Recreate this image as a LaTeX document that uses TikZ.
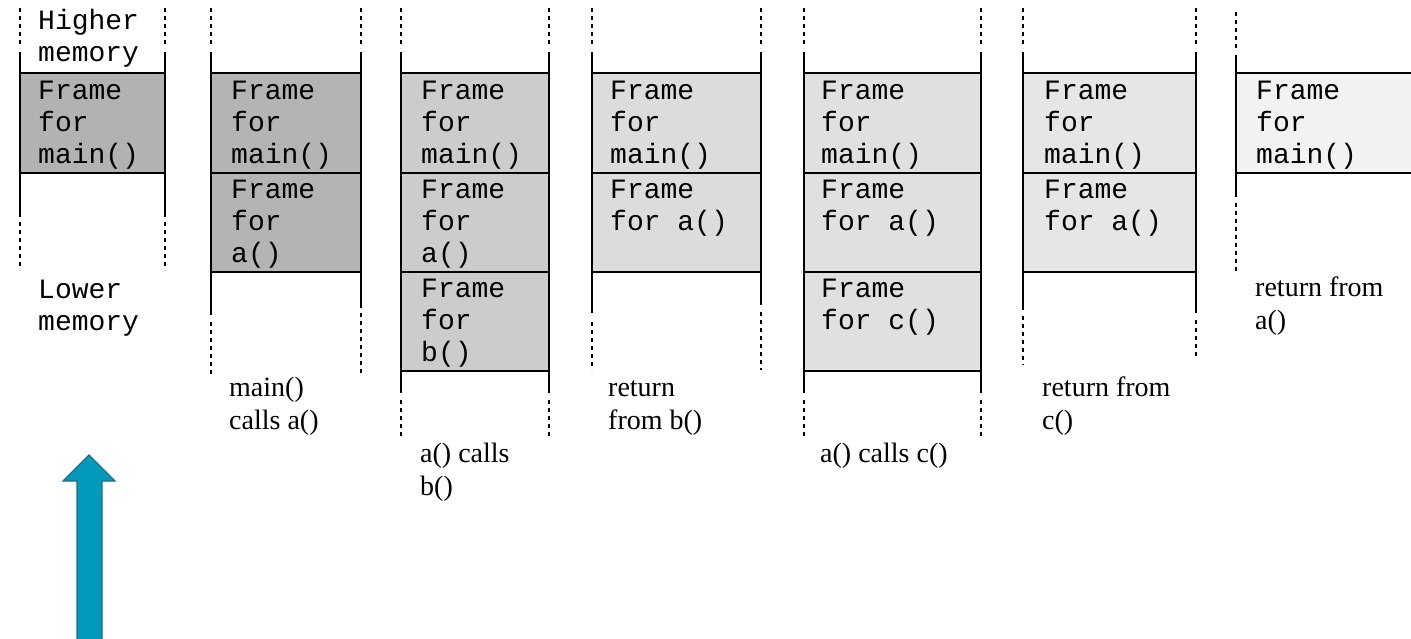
\documentclass[tikz,border=0pt]{standalone}
\usepackage{fontspec}
\setmainfont{Liberation Serif}
\newfontfamily\monof{Liberation Mono}
\begin{document}
\begin{tikzpicture}[x=1pt,y=-1pt,
  wall/.style={line width=2pt},
  dots/.style={line width=2pt,dash pattern=on 4pt off 4pt},
  framebox/.style={draw,line width=2pt,rectangle,inner sep=0pt,outer sep=0pt,anchor=north west},
  mono/.style={font=\monof\fontsize{28}{32}\selectfont,align=left,inner sep=0pt,anchor=base west},
  note/.style={font=\fontsize{28}{33}\selectfont,align=left,inner sep=0pt,anchor=base west},
  bluearrow/.style={fill=arrowfill,draw=arrowedge,line width=1.2pt}]
\definecolor{arrowfill}{HTML}{0399BD}
\definecolor{arrowedge}{HTML}{1B6F8A}
\clip (0,0) rectangle (1411,639);
\fill[white] (0,0) rectangle (1411,639);
% text nodes are placed by the baseline of their last line

% --- stack 1: initial state ---
\node[framebox,fill={rgb,255:red,178;green,178;blue,178},minimum width=145pt,minimum height=100pt] (s1m) at (20,73) {};
\draw[dots] (20,8) -- (20,48) (165,8) -- (165,48);
\draw[wall] (20,52) -- (20,217) (165,52) -- (165,217);
\draw[dots] (20,222) -- (20,270) (165,222) -- (165,270);
\node[mono] (h1) at (38,62) {Higher\\memory};
\node[mono] (t1m) at (38,164) {Frame\\for\\main()};
\node[mono] (l1) at (38,330) {Lower\\memory};

% --- stack 2: main() calls a() ---
\node[framebox,fill={rgb,255:red,180;green,180;blue,180},minimum width=150pt,minimum height=100pt] (s2m) at (211,73) {};
\node[framebox,fill={rgb,255:red,180;green,180;blue,180},minimum width=150pt,minimum height=99pt] (s2a) at (211,173) {};
\draw[dots] (211,8) -- (211,48) (361,8) -- (361,48);
\draw[wall] (211,52) -- (211,315) (361,52) -- (361,308);
\draw[dots] (211,322) -- (211,375) (361,313) -- (361,375);
\node[mono] (t2m) at (231,164) {Frame\\for\\main()};
\node[mono] (t2a) at (231,262) {Frame\\for\\a()};
\node[note] (n2) at (229,429) {main()\\calls a()};

% --- stack 3: a() calls b() ---
\node[framebox,fill={rgb,255:red,204;green,204;blue,204},minimum width=148pt,minimum height=100pt] (s3m) at (401,73) {};
\node[framebox,fill={rgb,255:red,204;green,204;blue,204},minimum width=148pt,minimum height=99pt] (s3a) at (401,173) {};
\node[framebox,fill={rgb,255:red,204;green,204;blue,204},minimum width=148pt,minimum height=99pt] (s3b) at (401,272) {};
\draw[dots] (401,8) -- (401,48) (549,8) -- (549,48);
\draw[wall] (401,52) -- (401,393) (549,52) -- (549,393);
\draw[dots] (401,400) -- (401,437) (549,400) -- (549,437);
\node[mono] (t3m) at (421,164) {Frame\\for\\main()};
\node[mono] (t3a) at (421,262) {Frame\\for\\a()};
\node[mono] (t3b) at (421,361) {Frame\\for\\b()};
\node[note] (n3) at (420,495) {a() calls\\b()};

% --- stack 4: return from b() ---
\node[framebox,fill={rgb,255:red,220;green,220;blue,220},minimum width=169pt,minimum height=100pt] (s4m) at (592,73) {};
\node[framebox,fill={rgb,255:red,220;green,220;blue,220},minimum width=169pt,minimum height=99pt] (s4a) at (592,173) {};
\draw[dots] (592,8) -- (592,48) (761,8) -- (761,48);
\draw[wall] (592,52) -- (592,313) (761,52) -- (761,305);
\draw[dots] (592,322) -- (592,370) (761,312) -- (761,370);
\node[mono] (t4m) at (610,164) {Frame\\for\\main()};
\node[mono] (t4a) at (610,230) {Frame\\for a()};
\node[note] (n4) at (608,429) {return\\from b()};

% --- stack 5: a() calls c() ---
\node[framebox,fill={rgb,255:red,224;green,224;blue,224},minimum width=177pt,minimum height=100pt] (s5m) at (804,73) {};
\node[framebox,fill={rgb,255:red,224;green,224;blue,224},minimum width=177pt,minimum height=99pt] (s5a) at (804,173) {};
\node[framebox,fill={rgb,255:red,224;green,224;blue,224},minimum width=177pt,minimum height=99pt] (s5c) at (804,272) {};
\draw[dots] (804,8) -- (804,48) (981,8) -- (981,48);
\draw[wall] (804,52) -- (804,393) (981,52) -- (981,393);
\draw[dots] (804,400) -- (804,437) (981,400) -- (981,437);
\node[mono] (t5m) at (821,164) {Frame\\for\\main()};
\node[mono] (t5a) at (821,230) {Frame\\for a()};
\node[mono] (t5c) at (821,329) {Frame\\for c()};
\node[note] (n5) at (820,462) {a() calls c()};

% --- stack 6: return from c() ---
\node[framebox,fill={rgb,255:red,230;green,230;blue,230},minimum width=173pt,minimum height=100pt] (s6m) at (1023,73) {};
\node[framebox,fill={rgb,255:red,230;green,230;blue,230},minimum width=173pt,minimum height=99pt] (s6a) at (1023,173) {};
\draw[dots] (1023,8) -- (1023,48) (1196,8) -- (1196,48);
\draw[wall] (1023,52) -- (1023,310) (1196,52) -- (1196,313);
\draw[dots] (1023,316) -- (1023,365) (1196,320) -- (1196,357);
\node[mono] (t6m) at (1044,164) {Frame\\for\\main()};
\node[mono] (t6a) at (1044,230) {Frame\\for a()};
\node[note] (n6) at (1042,429) {return from\\c()};

% --- stack 7: return from a() ---
\node[framebox,fill={rgb,255:red,242;green,242;blue,242},minimum width=200pt,minimum height=100pt] (s7m) at (1236,73) {};
\draw[dots] (1236,12) -- (1236,48);
\draw[wall] (1236,55) -- (1236,197);
\draw[dots] (1236,203) -- (1236,273);
\node[mono] (t7m) at (1256,164) {Frame\\for\\main()};
\node[note] (n7) at (1255,329) {return from\\a()};

% --- growth direction arrow ---
\draw[bluearrow] (89,455) -- (115,481) -- (102,481) -- (102,650) -- (77,650) -- (77,481) -- (63,481) -- cycle;
\end{tikzpicture}
\end{document}
